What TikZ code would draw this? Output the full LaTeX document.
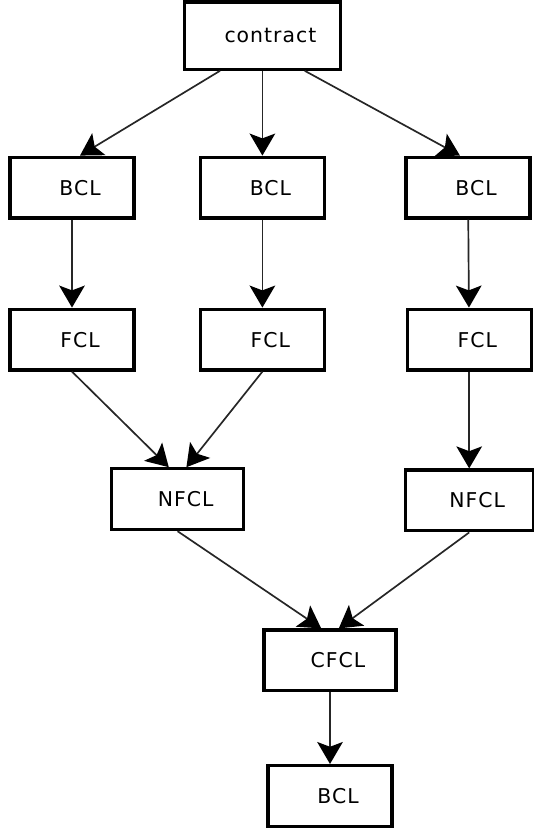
\documentclass[tikz,border=0pt]{standalone}
\usepackage{fontspec}
\setmainfont{DejaVu Sans}[LetterSpace=5]
\usepackage{tikz}
\usetikzlibrary{arrows.meta}
\tikzstyle{layer} = [rectangle, minimum width=3.1cm, minimum height=1.52cm, text centered, draw=black, line width=2.3pt, font=\fontsize{14.5}{16}\selectfont, execute at begin node={\hspace*{0.4cm}}]
\tikzstyle{wide} = [layer, minimum width=3.3cm]
\tikzstyle{arrow} = [line width=1.2pt, draw=black!85, -{Stealth[length=0.55cm, width=0.64cm, inset=0.12cm, black]}]

\begin{document}
\begin{tikzpicture}[node distance=3.8cm]
        \useasboundingbox (0,0) rectangle (13.325,-20.75);

        \node (contract) [layer, minimum width=3.9cm, minimum height=1.68cm] at (6.56,-0.89) {contract};
        \node (bcl2) [layer, below of=contract] {BCL};
        \node (bcl1) [layer, left of=bcl2, xshift=-0.96cm] {BCL};
        \node (bcl3) [layer, right of=bcl2, xshift=1.34cm] {BCL};

        \node (fcl1) [layer, below of=bcl1] {FCL};
        \node (fcl2) [layer, below of=bcl2] {FCL};
        \node (fcl3) [layer, below of=bcl3, xshift=0.03cm] {FCL};

        \node (nfcl1) [wide, below of=fcl1, xshift=2.64cm, yshift=-0.19cm] {NFCL};
        \node (nfcl2) [wide, below of=fcl3, yshift=-0.22cm, minimum width=3.2cm] {NFCL};
        \node (cfcl) [wide, below of=nfcl1, xshift=3.81cm, yshift=-0.23cm] {CFCL};
        \node (bcl4) [layer, below of=cfcl, yshift=0.41cm] {BCL};

        \draw [arrow] ([xshift=-1.06cm]contract.south) -- ([xshift=0.2cm]bcl1.north);
        \draw [arrow] (contract) -- (bcl2);
        \draw [arrow] ([xshift=1.06cm]contract.south) -- ([xshift=-0.2cm]bcl3.north);

        \draw [arrow] (bcl1) -- (fcl1);
        \draw [arrow] (bcl2) -- (fcl2);
        \draw [arrow] (bcl3) -- (fcl3);

        \draw [arrow] (fcl1.south) -- ([xshift=-0.22cm]nfcl1.north);
        \draw [arrow] (fcl2.south) -- ([xshift=0.22cm]nfcl1.north);
        \draw [arrow] (fcl3) -- (nfcl2);

        \draw [arrow] (nfcl1.south) -- ([xshift=-0.22cm]cfcl.north);
        \draw [arrow] (nfcl2.south) -- ([xshift=0.22cm]cfcl.north);
        \draw [arrow] (cfcl) -- (bcl4);

    \end{tikzpicture}
\end{document}
